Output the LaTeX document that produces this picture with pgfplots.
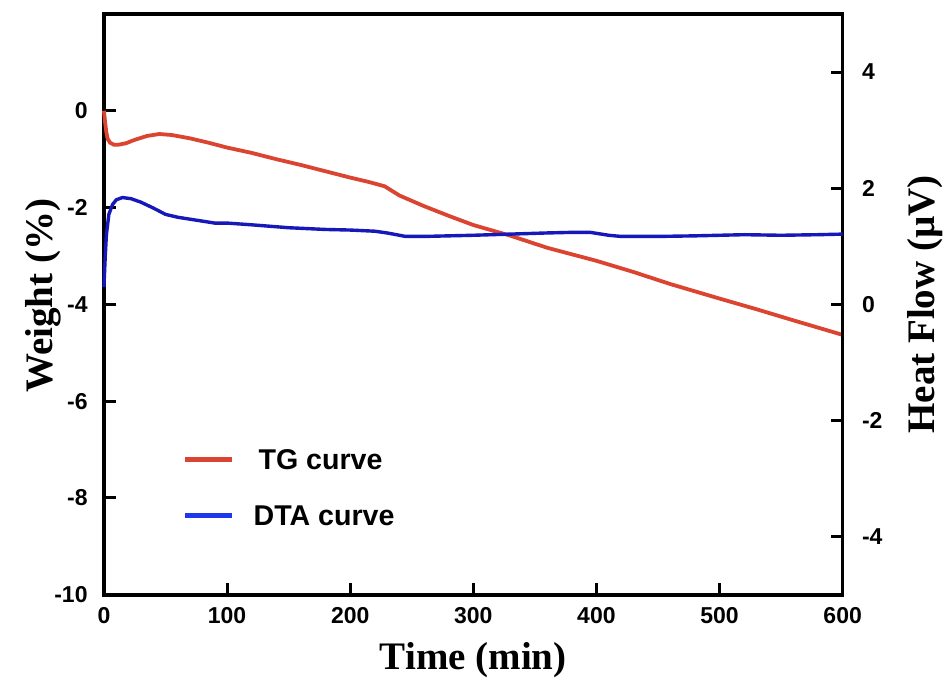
\documentclass[border=0pt]{standalone}
\usepackage{fontspec}
\setmainfont{Liberation Serif}
\setsansfont{Liberation Sans}
\usepackage{pgfplots}
\pgfplotsset{compat=1.18}

\definecolor{tgred}{RGB}{220,68,50}
\definecolor{dtablue}{RGB}{22,24,185}
\definecolor{legblue}{RGB}{30,55,235}

\pgfplotstableread{
t w
0 0
1 -0.25
2 -0.45
3 -0.58
5 -0.66
8 -0.70
12 -0.70
18 -0.67
25 -0.60
35 -0.52
45 -0.48
55 -0.50
70 -0.57
85 -0.66
100 -0.76
120 -0.87
140 -1.00
160 -1.12
180 -1.25
200 -1.38
215 -1.47
228 -1.56
240 -1.75
260 -1.97
281 -2.18
300 -2.36
330 -2.58
360 -2.83
400 -3.10
430 -3.33
460 -3.58
500 -3.88
530 -4.10
560 -4.33
600 -4.63
}\tgdata

\pgfplotstableread{
t h
0 0.3
1 0.8
2 1.2
4 1.55
7 1.72
10 1.80
15 1.84
22 1.82
30 1.76
40 1.66
50 1.55
60 1.50
75 1.45
90 1.40
100 1.40
120 1.37
150 1.32
180 1.29
200 1.28
220 1.26
230 1.23
245 1.17
260 1.17
280 1.18
300 1.19
330 1.21
360 1.23
380 1.24
395 1.24
410 1.19
420 1.17
450 1.17
480 1.18
500 1.19
520 1.20
550 1.19
580 1.20
600 1.21
}\dtadata

\pgfplotsset{
  common/.style={
    scale only axis,
    width=369.5pt, height=290.5pt,
    xmin=0, xmax=600,
    tick align=inside,
    major tick length=6pt,
    every tick/.style={line width=1.5pt, black},
    axis line style={line width=1.75pt},
    tick label style={font=\sffamily\bfseries\fontsize{11.5}{13}\selectfont},
    label style={font=\rmfamily\bfseries\fontsize{19.5}{22}\selectfont},
    /pgf/number format/assume math mode=true,
    clip=false,
  }
}

\begin{document}
\begin{tikzpicture}
\begin{axis}[
  common,
  ymin=-10, ymax=2,
  ytick={-10,-8,-6,-4,-2,0},
  xtick={0,100,...,600},
  xtick pos=bottom,
  ytick pos=left,
  yticklabel style={inner sep=0pt, xshift=-8pt},
  xticklabel style={inner sep=0pt, yshift=-6pt},
  xlabel={Time (min)},
  ylabel={Weight (\%)},
  xlabel style={at={(axis description cs:0.5,-0.112)}, anchor=center},
  ylabel style={at={(axis description cs:-0.082,0.515)}, anchor=center},
  legend style={draw=none, fill=none, at={(axis description cs:0.106,0.25)},
    anchor=north west, inner sep=0pt, row sep=18pt,
    font=\sffamily\bfseries\fontsize{14.3}{17}\selectfont,
    nodes={inner sep=0pt, text depth=0pt}},
  legend cell align=left,
]
\addlegendimage{legend image code/.code={\draw[tgred, line width=2.5pt] (0pt,0pt) -- (23.5pt,0pt);}}
\addlegendentry{\hspace{12pt}TG curve}
\addlegendimage{legend image code/.code={\draw[legblue, line width=2.5pt] (0pt,0pt) -- (23.5pt,0pt);}}
\addlegendentry{\hspace{9.5pt}DTA curve}
\addplot[tgred, line width=1.9pt, forget plot] table[x=t, y=w] {\tgdata};
\path (rel axis cs:-0.1407,-0.1463) rectangle (rel axis cs:1.1434,1.0241);
\end{axis}
\begin{axis}[
  common,
  ymin=-5, ymax=5,
  ytick={-4,-2,0,2,4},
  axis x line=none,
  axis y line*=right,
  ytick pos=right,
  yticklabel style={inner sep=0pt, xshift=9.5pt},
  ylabel={Heat Flow (\textmu V)},
  ylabel style={at={(axis description cs:1.111,0.5)}, anchor=center, rotate=0},
]
\addplot[dtablue, line width=1.7pt] table[x=t, y=h] {\dtadata};
\end{axis}
\end{tikzpicture}
\end{document}
